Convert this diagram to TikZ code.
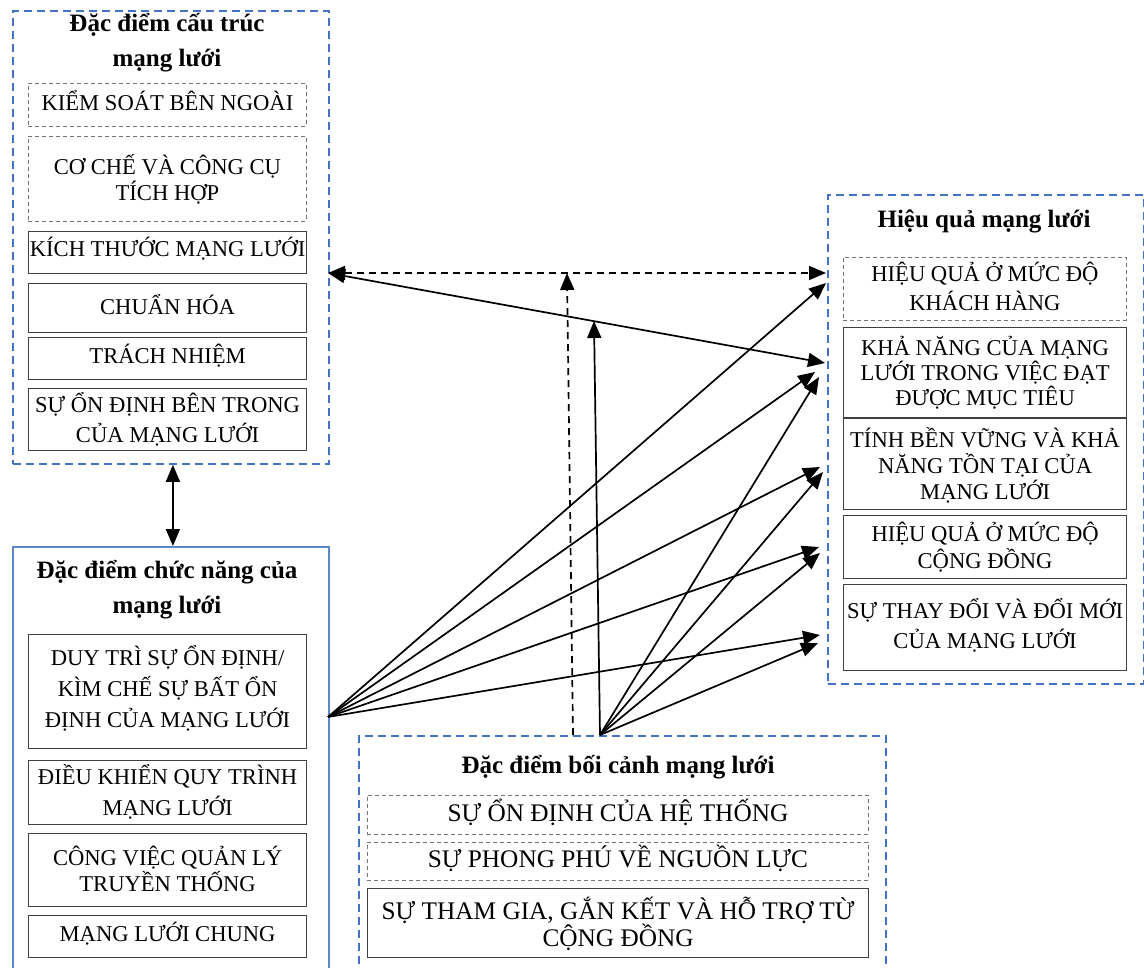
\documentclass[tikz,border=0pt]{standalone}
\usepackage{fontspec}
\setmainfont{Liberation Serif}
\usetikzlibrary{arrows.meta}
\definecolor{boxblue}{HTML}{4472C4}
\definecolor{boxblue2}{HTML}{5A8AC6}
\begin{document}
\begin{tikzpicture}[x=1pt,y=-1pt,
  outerdash/.style={draw=boxblue, line width=1.8pt, dash pattern=on 8pt off 5pt, inner sep=0pt, anchor=north west},
  outersolid/.style={draw=boxblue2, line width=1.8pt, inner sep=0pt, anchor=north west},
  cell/.style={draw=black!75, line width=1.2pt, inner sep=0pt, anchor=north west},
  dcell/.style={cell, draw=black!55, line width=0.9pt, dash pattern=on 4pt off 3pt},
  txt/.style={align=center, inner sep=0pt, font=\fontsize{22.6}{26}\selectfont},
  ctxt/.style={txt, font=\fontsize{25.3}{27}\selectfont},
  ttl/.style={font=\bfseries\fontsize{25}{35}\selectfont, align=center, inner sep=0pt},
  conn/.style={line width=1.7pt, -{Triangle[length=17pt,width=14pt]}},
  biconn/.style={line width=1.7pt, {Triangle[length=17pt,width=14pt]}-{Triangle[length=17pt,width=14pt]}},
  dconn/.style={biconn, dash pattern=on 7pt off 5pt},
  upconn/.style={conn, dash pattern=on 7pt off 5pt}
]
\useasboundingbox (0,0) rectangle (1144,968);

% outer boxes
\node[outerdash, minimum width=316pt, minimum height=453pt] (struct) at (12,10) {};
\node[outersolid, minimum width=316pt, minimum height=440pt] (func) at (12,546) {};
\node[outerdash, minimum width=316pt, minimum height=489pt] (perf) at (827,194) {};
\node[outerdash, minimum width=527pt, minimum height=260pt] (ctx) at (358,735) {};

% titles
\node[ttl] (tS) at (167,43) {Đặc điểm cấu trúc\\mạng lưới};
\node[ttl] (tF) at (167,590) {Đặc điểm chức năng của\\mạng lưới};
\node[ttl] (tP) at (984,221) {Hiệu quả mạng lưới};
\node[ttl] (tC) at (618,767) {Đặc điểm bối cảnh mạng lưới};

% structure cells
\node[dcell, minimum width=278pt, minimum height=43pt] (s1) at (28,83) {};
\node[txt] (s1t) at ([yshift=4pt]s1.center) {KIỂM SOÁT BÊN NGOÀI};
\node[dcell, minimum width=278pt, minimum height=85pt] (s2) at (28,136) {};
\node[txt] (s2t) at (s2.center) {CƠ CHẾ VÀ CÔNG CỤ\\TÍCH HỢP};
\node[cell, minimum width=278pt, minimum height=42pt] (s3) at (28,231) {};
\node[txt] (s3t) at ([yshift=4pt]s3.center) {KÍCH THƯỚC MẠNG LƯỚI};
\node[cell, minimum width=278pt, minimum height=49pt] (s4) at (28,283) {};
\node[txt] (s4t) at ([yshift=4pt]s4.center) {CHUẨN HÓA};
\node[cell, minimum width=278pt, minimum height=42pt] (s5) at (28,337) {};
\node[txt] (s5t) at ([yshift=3pt]s5.center) {TRÁCH NHIỆM};
\node[cell, minimum width=278pt, minimum height=62pt] (s6) at (28,388) {};
\node[txt, font=\fontsize{22.6}{30}\selectfont] (s6t) at (s6.center) {SỰ ỔN ĐỊNH BÊN TRONG\\CỦA MẠNG LƯỚI};

% function cells
\node[cell, minimum width=278pt, minimum height=114pt] (f1) at (28,634) {};
\node[txt, font=\fontsize{22.6}{31}\selectfont] (f1t) at ([yshift=3pt]f1.center) {DUY TRÌ SỰ ỔN ĐỊNH/\\KÌM CHẾ SỰ BẤT ỔN\\ĐỊNH CỦA MẠNG LƯỚI};
\node[cell, minimum width=278pt, minimum height=64pt] (f2) at (28,760) {};
\node[txt, font=\fontsize{22.6}{31}\selectfont] (f2t) at ([yshift=1pt]f2.center) {ĐIỀU KHIỂN QUY TRÌNH\\MẠNG LƯỚI};
\node[cell, minimum width=278pt, minimum height=73pt] (f3) at (28,833) {};
\node[txt] (f3t) at ([yshift=1pt]f3.center) {CÔNG VIỆC QUẢN LÝ\\TRUYỀN THỐNG};
\node[cell, minimum width=278pt, minimum height=42pt] (f4) at (28,915) {};
\node[txt] (f4t) at ([yshift=3pt]f4.center) {MẠNG LƯỚI CHUNG};

% performance cells
\node[dcell, minimum width=283pt, minimum height=63pt] (p1) at (843,257) {};
\node[txt, font=\fontsize{22.6}{29}\selectfont] (p1t) at ([yshift=3pt]p1.center) {HIỆU QUẢ Ở MỨC ĐỘ\\KHÁCH HÀNG};
\node[cell, minimum width=283pt, minimum height=90pt] (p2) at (843,327) {};
\node[txt, font=\fontsize{22.6}{25}\selectfont] (p2t) at (p2.center) {KHẢ NĂNG CỦA MẠNG\\LƯỚI TRONG VIỆC ĐẠT\\ĐƯỢC MỤC TIÊU};
\node[cell, minimum width=283pt, minimum height=91pt] (p3) at (843,418) {};
\node[txt] (p3t) at ([yshift=-1pt]p3.center) {TÍNH BỀN VỮNG VÀ KHẢ\\NĂNG TỒN TẠI CỦA\\MẠNG LƯỚI};
\node[cell, minimum width=283pt, minimum height=63pt] (p4) at (843,515) {};
\node[txt, font=\fontsize{22.6}{27}\selectfont] (p4t) at (p4.center) {HIỆU QUẢ Ở MỨC ĐỘ\\CỘNG ĐỒNG};
\node[cell, minimum width=283pt, minimum height=86pt] (p5) at (843,584) {};
\node[txt, font=\fontsize{22.6}{30}\selectfont] (p5t) at ([yshift=2pt]p5.center) {SỰ THAY ĐỔI VÀ ĐỔI MỚI\\CỦA MẠNG LƯỚI};

% context cells
\node[dcell, minimum width=501pt, minimum height=39pt] (c1) at (367,795) {};
\node[ctxt] (c1t) at ([yshift=3pt]c1.center) {SỰ ỔN ĐỊNH CỦA HỆ THỐNG};
\node[dcell, minimum width=501pt, minimum height=38pt] (c2) at (367,842) {};
\node[ctxt] (c2t) at ([yshift=3pt]c2.center) {SỰ PHONG PHÚ VỀ NGUỒN LỰC};
\node[cell, minimum width=501pt, minimum height=69pt] (c3) at (367,888) {};
\node[ctxt] (c3t) at ([yshift=-1pt]c3.center) {SỰ THAM GIA, GẮN KẾT VÀ HỖ TRỢ TỪ\\CỘNG ĐỒNG};

% connector points
\coordinate (sR) at (328,273);
\coordinate (pL) at (826,273);
\coordinate (pL2) at (825,363);
\coordinate (dTop) at (567,273);
\coordinate (dBot) at (573,735);
\coordinate (hubL) at (328,717);
\coordinate (hubB) at (600,735);
\coordinate (vTop) at (594,321);
\coordinate (L1) at (826,283);
\coordinate (L2) at (815,372);
\coordinate (L3) at (820,467);
\coordinate (L4) at (819,547);
\coordinate (L5) at (820,635);
\coordinate (B1) at (819,377);
\coordinate (B2) at (823,472);
\coordinate (B3) at (820,553);
\coordinate (B4) at (818,643);

% connectors
\draw[biconn] ([xshift=2pt]struct.south) -- ([xshift=2pt]func.north);
\draw[dconn] (sR) -- (pL);
\draw[biconn] (sR) -- (pL2);
\draw[upconn] (dBot) -- (dTop);
\draw[conn] (hubB) -- (vTop);
\foreach \t in {L1,L2,L3,L4,L5} \draw[conn] (hubL) -- (\t);
\foreach \t in {B1,B2,B3,B4} \draw[conn] (hubB) -- (\t);
\end{tikzpicture}
\end{document}
